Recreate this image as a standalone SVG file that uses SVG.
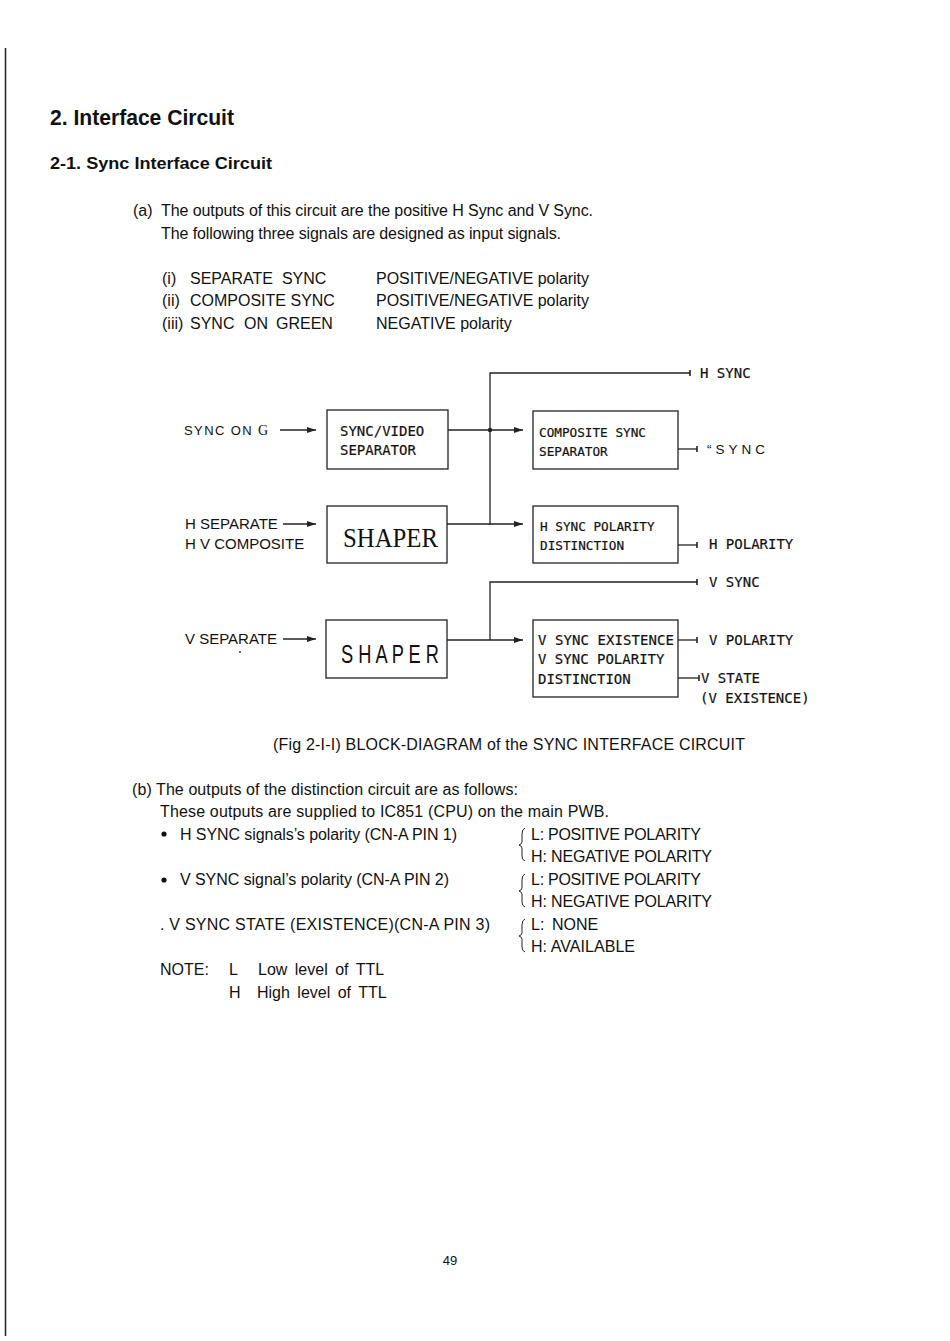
<svg xmlns="http://www.w3.org/2000/svg" width="950" height="1341" viewBox="0 0 950 1341">
<style>
.t{font-family:"Liberation Sans",Arial,sans-serif;font-size:16px;fill:#111}
.h1{font-family:"Liberation Sans",Arial,sans-serif;font-weight:bold;font-size:22px;fill:#111}
.h2{font-family:"Liberation Sans",Arial,sans-serif;font-weight:bold;font-size:17px;fill:#111}
.m{font-family:"DejaVu Sans Mono","Liberation Mono",monospace;font-size:14px;fill:#111;stroke:#111;stroke-width:0.2}
.ms{font-family:"DejaVu Sans Mono","Liberation Mono",monospace;font-size:12.7px;fill:#111;stroke:#111;stroke-width:0.2}
.lbl{font-family:"Liberation Sans",Arial,sans-serif;font-size:15px;fill:#111}
.box{fill:none;stroke:#222;stroke-width:1.3}
.ln{fill:none;stroke:#222;stroke-width:1.3}
</style>
<defs>
<marker id="ah" markerWidth="10" markerHeight="8" refX="9" refY="4" orient="auto" markerUnits="userSpaceOnUse">
<path d="M0,1 L9,4 L0,7 Z" fill="#222"/>
</marker>
<marker id="tk" markerWidth="4" markerHeight="8" refX="2" refY="4" orient="auto" markerUnits="userSpaceOnUse">
<path d="M2,1 L2,7" stroke="#222" stroke-width="1.6"/>
</marker>
</defs>
<rect width="950" height="1341" fill="#fff"/>
<line x1="5.5" y1="48" x2="5.5" y2="1336" stroke="#222" stroke-width="1.5"/>

<text class="h1" x="50" y="125" textLength="184" lengthAdjust="spacingAndGlyphs">2. Interface Circuit</text>
<text class="h2" x="50" y="169" textLength="222" lengthAdjust="spacingAndGlyphs">2-1. Sync Interface Circuit</text>

<text class="t" x="133" y="216">(a)</text>
<text class="t" x="161" y="216" textLength="432">The outputs of this circuit are the positive H Sync and V Sync.</text>
<text class="t" x="161" y="239" textLength="400">The following three signals are designed as input signals.</text>
<text class="t" x="162" y="284">(i)</text>
<text class="t" x="190" y="284" xml:space="preserve">SEPARATE  SYNC</text>
<text class="t" x="376" y="284" textLength="213">POSITIVE/NEGATIVE polarity</text>
<text class="t" x="162" y="306">(ii)</text>
<text class="t" x="190" y="306">COMPOSITE SYNC</text>
<text class="t" x="376" y="306" textLength="213">POSITIVE/NEGATIVE polarity</text>
<text class="t" x="162" y="329">(iii)</text>
<text class="t" x="190" y="329">SYNC</text>
<text class="t" x="244" y="329">ON</text>
<text class="t" x="276" y="329">GREEN</text>
<text class="t" x="376" y="329">NEGATIVE polarity</text>

<g id="connectors">
<path class="ln" d="M280,430 L316,430" marker-end="url(#ah)"/>
<path class="ln" d="M283,524 L316,524" marker-end="url(#ah)"/>
<path class="ln" d="M283,639 L316,639" marker-end="url(#ah)"/>
<path class="ln" d="M448,430 L523,430" marker-end="url(#ah)"/>
<circle cx="490" cy="430" r="2.2" fill="#222"/>
<path class="ln" d="M490,525 L490,373 L690,373" marker-end="url(#tk)"/>
<path class="ln" d="M447,524 L523,524" marker-end="url(#ah)"/>
<path class="ln" d="M678,449 L697,449" marker-end="url(#tk)"/>
<path class="ln" d="M678,545 L697,545" marker-end="url(#tk)"/>
<path class="ln" d="M490,640 L490,582 L697,582" marker-end="url(#tk)"/>
<path class="ln" d="M447,640 L523,640" marker-end="url(#ah)"/>
<path class="ln" d="M678,640 L697,640" marker-end="url(#tk)"/>
<path class="ln" d="M678,678 L699,678" marker-end="url(#tk)"/>
</g>

<g id="in-sync-on-g"><text x="184" y="435" font-family="Liberation Sans,Arial,sans-serif" font-size="13" fill="#111" letter-spacing="1.4">SYNC ON <tspan font-family="Liberation Serif,serif" font-size="14">G</tspan></text></g>
<g id="in-h-sep">
<text class="lbl" x="185" y="529">H SEPARATE</text>
<text class="lbl" x="185" y="549">H V COMPOSITE</text>
</g>
<g id="in-v-sep">
<text class="lbl" x="185" y="644">V SEPARATE</text>
<circle cx="240" cy="652" r="0.9" fill="#222"/>
</g>

<g id="sync-video-sep">
<rect class="box" x="327" y="410" width="121" height="59"/>
<text class="m" x="340" y="436">SYNC/VIDEO</text>
<text class="m" x="340" y="455">SEPARATOR</text>
</g>
<g id="shaper1">
<rect class="box" x="327" y="506" width="120" height="57"/>
<text x="343" y="547" font-family="Liberation Serif,serif" font-size="28" fill="#111" textLength="95" lengthAdjust="spacingAndGlyphs">SHAPER</text>
</g>
<g id="shaper2">
<rect class="box" x="326" y="620" width="121" height="58"/>
<text x="341" y="663" font-family="Liberation Sans,Arial,sans-serif" font-size="26" fill="#111" textLength="98" lengthAdjust="spacingAndGlyphs">S H A P E R</text>
</g>
<g id="comp-sync-sep">
<rect class="box" x="533" y="411" width="145" height="58"/>
<text class="ms" x="539" y="437">COMPOSITE SYNC</text>
<text class="ms" x="539" y="456">SEPARATOR</text>
</g>
<g id="h-pol-dist">
<rect class="box" x="533" y="506" width="145" height="57"/>
<text class="ms" x="540" y="531">H SYNC POLARITY</text>
<text class="ms" x="540" y="550">DISTINCTION</text>
</g>
<g id="v-dist">
<rect class="box" x="533" y="620" width="145" height="77"/>
<text class="m" x="538" y="645" textLength="136">V SYNC EXISTENCE</text>
<text class="m" x="538" y="664">V SYNC POLARITY</text>
<text class="m" x="538" y="684">DISTINCTION</text>
</g>

<g id="out-labels">
<text class="m" x="700" y="378">H SYNC</text>
<text x="707" y="454" font-family="Liberation Sans,Arial,sans-serif" font-size="13.5" fill="#111" letter-spacing="4">“SYNC</text>
<text class="m" x="709" y="549">H POLARITY</text>
<text class="m" x="709" y="587">V SYNC</text>
<text class="m" x="709" y="645">V POLARITY</text>
<text class="m" x="701" y="683">V STATE</text>
<text class="m" x="700" y="703">(V EXISTENCE)</text>
</g>

<text class="t" x="273" y="750" textLength="472">(Fig 2-I-I) BLOCK-DIAGRAM of the SYNC INTERFACE CIRCUIT</text>

<text class="t" x="132" y="795" textLength="386">(b) The outputs of the distinction circuit are as follows:</text>
<text class="t" x="160" y="817" textLength="449">These outputs are supplied to IC851 (CPU) on the main PWB.</text>
<circle cx="164" cy="834" r="2.6" fill="#111"/>
<text class="t" x="180" y="840" textLength="277">H SYNC signals’s polarity (CN-A PIN 1)</text>
<circle cx="164" cy="880" r="2.6" fill="#111"/>
<text class="t" x="180" y="885" textLength="269">V SYNC signal’s polarity (CN-A PIN 2)</text>
<text class="t" x="160" y="930" textLength="330">. V SYNC STATE (EXISTENCE)(CN-A PIN 3)</text>

<g fill="none" stroke="#222" stroke-width="1">
<path d="M525,828 Q522,829 522,834 L522,842 Q522,844 519,845 Q522,846 522,848 L522,856 Q522,860 525,861"/>
<path d="M525,874 Q522,875 522,880 L522,888 Q522,890 519,891 Q522,892 522,894 L522,902 Q522,906 525,907"/>
<path d="M525,919 Q522,920 522,925 L522,933 Q522,935 519,936 Q522,937 522,939 L522,947 Q522,951 525,952"/>
</g>
<text class="t" x="531" y="840" textLength="170">L: POSITIVE POLARITY</text>
<text class="t" x="531" y="862" textLength="181">H: NEGATIVE POLARITY</text>
<text class="t" x="531" y="885" textLength="170">L: POSITIVE POLARITY</text>
<text class="t" x="531" y="907" textLength="181">H: NEGATIVE POLARITY</text>
<text class="t" x="531" y="930">L:</text>
<text class="t" x="552" y="930">NONE</text>
<text class="t" x="531" y="952" textLength="104">H: AVAILABLE</text>

<text class="t" x="160" y="975">NOTE:</text>
<text class="t" x="229" y="975">L</text>
<text class="t" x="258" y="975" word-spacing="3">Low level of TTL</text>
<text class="t" x="229" y="998">H</text>
<text class="t" x="257" y="998" word-spacing="3">High level of TTL</text>

<text x="450" y="1265" text-anchor="middle" font-family="Liberation Sans,Arial,sans-serif" font-size="13" fill="#111">49</text>
</svg>
